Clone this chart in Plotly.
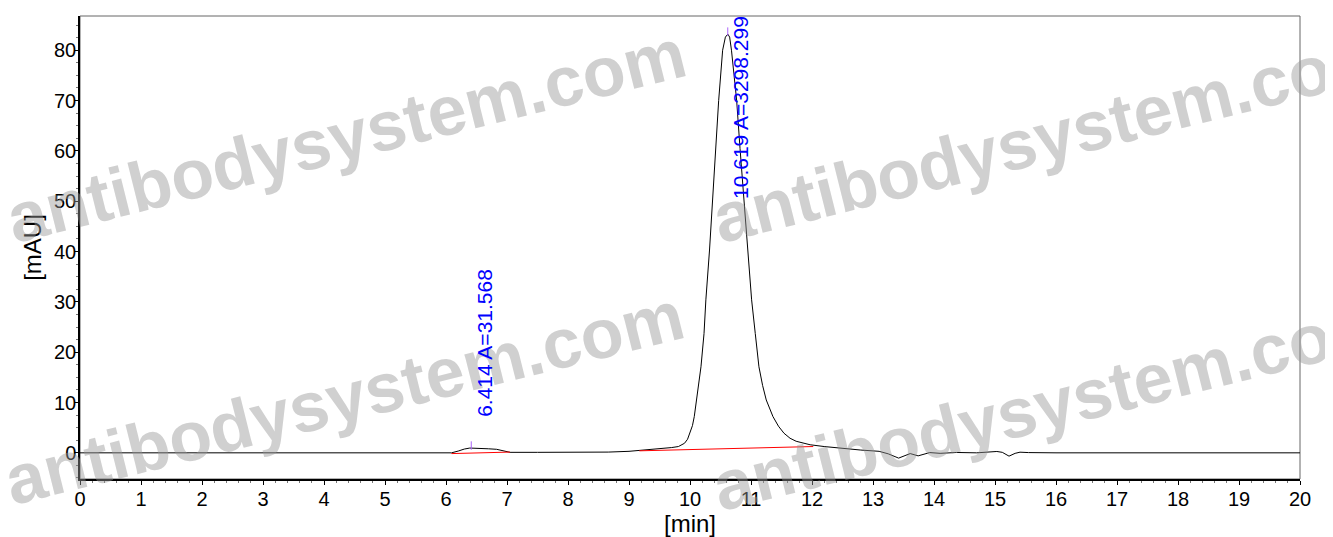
import plotly.graph_objects as go

# chromatogram signal
time_min = [0, 2.0, 4.0, 6.0, 6.09, 6.2, 6.3, 6.39, 6.5, 6.6, 6.7, 6.83, 6.95, 7.05,
            7.5, 8.0, 8.66, 9.0, 9.18, 9.5, 9.7, 9.81, 9.91, 9.96, 10.0, 10.04, 10.07,
            10.11, 10.15, 10.18, 10.23, 10.26, 10.32, 10.37, 10.42, 10.47, 10.535, 10.58,
            10.62, 10.65, 10.68, 10.72, 10.765, 10.82, 10.885, 10.94, 11.01, 11.07, 11.13,
            11.19, 11.25, 11.36, 11.45, 11.54, 11.64, 11.74, 11.97, 12.2, 12.46, 12.8,
            13.1, 13.25, 13.42, 13.52, 13.61, 13.74, 13.93, 14.1, 14.37, 14.7, 15.03,
            15.12, 15.23, 15.33, 15.41, 15.55, 16.0, 18.0, 20.0]
signal_mau = [0, 0, 0, 0, 0.0, 0.35, 0.75, 0.95, 0.95, 0.85, 0.8, 0.7, 0.35, 0.1,
              0.1, 0.1, 0.15, 0.3, 0.46, 0.8, 1.05, 1.25, 1.9, 2.7, 3.9, 5.4, 7.2,
              10.5, 14.0, 17.1, 23.7, 30.4, 40.3, 50.2, 60.3, 70.0, 80.0, 82.6,
              83.2, 82.6, 80.0, 75.5, 70.0, 60.5, 50.2, 40.3, 30.4, 23.7, 17.1,
              13.4, 10.5, 7.2, 5.3, 3.9, 2.9, 2.3, 1.6, 1.25, 0.9, 0.55,
              0.3, -0.2, -1.05, -0.5, -0.15, -0.6, 0.05, -0.1, 0.07, 0.0, 0.27,
              0.1, -0.66, -0.1, 0.13, 0.05, 0.0, 0.0, 0.0]

# integration baselines (red)
base1_t = [6.09, 7.05]
base1_y = [-0.15, 0.15]
base2_t = [9.17, 12.02]
base2_y = [0.4, 1.25]

# integrated peaks
peak_rt = [6.414, 10.619]
peak_area = [31.568, 3298.299]
peak_top = [0.95, 83.2]
label_y = [6.9, 50.2]

FONT = "Liberation Sans, Arial, sans-serif"

# the page body adds an 8px margin, so the figure is a bit smaller than the window
PAD = 8
W, H = 1333 - PAD, 537 - PAD
ML, MR, MT, MB = 80 - PAD, 33, 16 - PAD, 58

# plot area in window pixels
X0, X1, Y0, Y1 = 80, 1300, 16, 479


def px2paper(sx, sy):
    return (sx - X0) / (X1 - X0), (Y1 - sy) / (Y1 - Y0)


fig = go.Figure()

fig.add_trace(go.Scatter(x=time_min, y=signal_mau, mode='lines',
                         line=dict(color='black', width=1), hoverinfo='x+y'))
fig.add_trace(go.Scatter(x=base1_t, y=base1_y, mode='lines',
                         line=dict(color='red', width=1)))
fig.add_trace(go.Scatter(x=base2_t, y=base2_y, mode='lines',
                         line=dict(color='red', width=1)))
fig.add_trace(go.Scatter(x=peak_rt, y=[p + 0.5 for p in peak_top], mode='markers',
                         marker=dict(symbol='line-ns-open', size=6,
                                     line=dict(color='blue', width=1))))

annotations = []

# watermark
for cx, cy in [(346, 136), (1052, 136), (344, 398), (1052, 404)]:
    xp, yp = px2paper(cx, cy)
    annotations.append(dict(
        x=xp, y=yp, xref='paper', yref='paper', text='antibodysystem.com',
        showarrow=False, textangle=-14, xanchor='center', yanchor='middle',
        font=dict(family=FONT, size=70, color='rgba(150,150,150,0.45)', weight='bold'),
    ))

for rt, area, ly in zip(peak_rt, peak_area, label_y):
    annotations.append(dict(
        x=rt, y=ly, text='%.3f A=%.3f' % (rt, area), showarrow=False,
        textangle=-90, xanchor='left', yanchor='bottom', borderpad=0,
        font=dict(family=FONT, size=21, color='blue'),
    ))

layout = dict(
    width=W, height=H,
    margin=dict(l=ML, r=MR, t=MT, b=MB, autoexpand=False),
    paper_bgcolor='white', plot_bgcolor='white',
    showlegend=False,
    font=dict(family=FONT, size=20, color='black'),
    xaxis=dict(
        title=dict(text='[min]', standoff=4), automargin=False,
        range=[0, 20], dtick=1, showgrid=False, zeroline=False,
        showline=True, linecolor='black', linewidth=1.5,
        ticks='outside', ticklen=4, tickcolor='black', ticklabelstandoff=-3,
        minor=dict(dtick=0.2, ticks='outside', ticklen=2, tickcolor='#777'),
    ),
    yaxis=dict(
        title=dict(text='[mAU]', standoff=6), automargin=False,
        range=[-5.2, 86.8], tick0=0, dtick=10, showgrid=False, zeroline=False,
        showline=True, linecolor='black', linewidth=1.5,
        ticks='outside', ticklen=4, tickcolor='black', ticklabelstandoff=-6,
        minor=dict(dtick=2.5, ticks='outside', ticklen=2, tickcolor='#777'),
    ),
    shapes=[dict(type='rect', xref='paper', yref='paper', x0=0, x1=1, y0=0, y1=1,
                 line=dict(color='#666', width=1), layer='below')],
    annotations=annotations,
)

fig.update_layout(layout)
fig.write_html("out.html")
